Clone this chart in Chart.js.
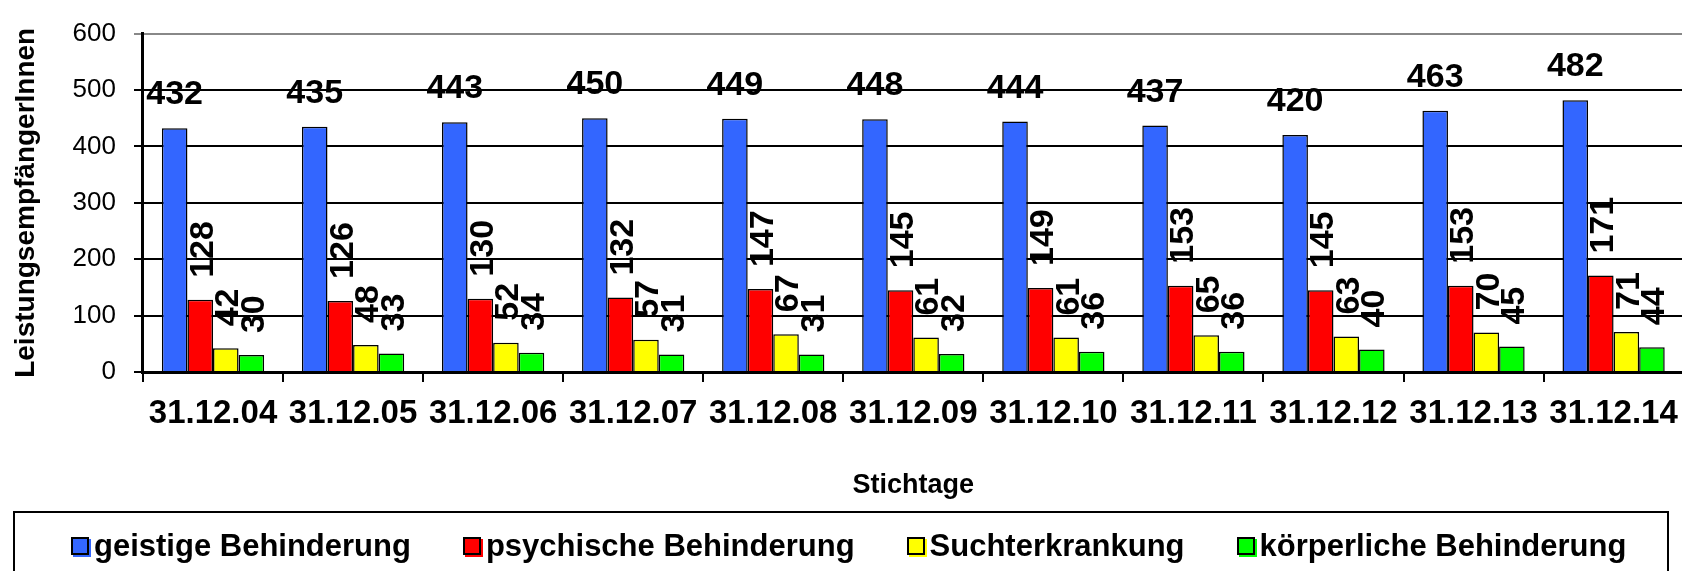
<!DOCTYPE html>
<html>
<head>
<meta charset="utf-8">
<script src="https://cdn.jsdelivr.net/npm/chart.js@4"></script>
<style>
  html, body { margin: 0; padding: 0; background: #fff; overflow: hidden; }
  #wrap { position: relative; width: 1690px; height: 571px; }
  #legend {
    position: absolute; left: 13px; top: 511px; width: 1656px; height: 80px;
    border: 2px solid #000; box-sizing: border-box;
    font-family: 'Liberation Sans', Arial, sans-serif; font-weight: bold; font-size: 31px;
    display: flex; align-items: flex-start; padding: 15px 0 0 56px;
  }
  .item { display: flex; align-items: center; margin-right: 52px; white-space: nowrap; }
  .sq { width: 14px; height: 14px; border: 2px solid #000; margin-right: 5px; }
</style>
</head>
<body>
<div id="wrap">
  <canvas id="myChart" width="1690" height="571"></canvas>
  <div id="legend"></div>
</div>
<script>
const labels = ['31.12.04','31.12.05','31.12.06','31.12.07','31.12.08','31.12.09','31.12.10','31.12.11','31.12.12','31.12.13','31.12.14'];
const geistige = [432,435,443,450,449,448,444,437,420,463,482];
const psychische = [128,126,130,132,147,145,149,153,145,153,171];
const sucht = [42,48,52,57,67,61,61,65,63,70,71];
const koerperlich = [30,33,34,31,31,32,36,36,40,45,44];

const seriesNames = ['geistige Behinderung','psychische Behinderung','Suchterkrankung','körperliche Behinderung'];
const colors = ['#3366ff','#ff0000','#ffff00','#00ff00'];

const font = "'Liberation Sans', Arial, sans-serif";

// value labels: first series upright, the others turned
const valueLabels = {
  id: 'valueLabels',
  afterDatasetsDraw(chart) {
    const ctx = chart.ctx;
    ctx.save();
    ctx.fillStyle = '#000';
    ctx.font = 'bold 34px ' + font;
    chart.data.datasets.forEach(function(ds, i) {
      const meta = chart.getDatasetMeta(i);
      meta.data.forEach(function(bar, j) {
        const txt = String(ds.data[j]);
        if (i === 0) {
          ctx.textAlign = 'center';
          ctx.textBaseline = 'alphabetic';
          ctx.fillText(txt, bar.x, bar.y - 24);
        } else {
          ctx.save();
          ctx.translate(bar.x + 3, bar.y - 22);
          ctx.rotate(-Math.PI / 2);
          ctx.textAlign = 'left';
          ctx.textBaseline = 'middle';
          ctx.fillText(txt, 0, 0);
          ctx.restore();
        }
      });
    });
    ctx.restore();
  }
};

const data = {
  labels: labels,
  datasets: [geistige, psychische, sucht, koerperlich].map(function(d, i) {
    return {
      label: seriesNames[i],
      data: d,
      backgroundColor: colors[i],
      borderColor: '#000',
      borderWidth: 1.5,
      barPercentage: 1,
      categoryPercentage: 0.73
    };
  })
};

const config = {
  type: 'bar',
  data: data,
  options: {
    responsive: false,
    animation: false,
    layout: { padding: { left: 1, right: 4, top: 32, bottom: 65 } },
    plugins: {
      legend: { display: false },
      tooltip: { enabled: false }
    },
    scales: {
      x: {
        grid: { drawOnChartArea: false, offset: true, tickLength: 10, color: '#000', lineWidth: 2 },
        border: { color: '#000', width: 3 },
        ticks: { color: '#000', padding: 12, font: { family: font, size: 33, weight: 'bold' } },
        title: {
          display: true, text: 'Stichtage', color: '#000',
          font: { family: font, size: 27, weight: 'bold' },
          padding: { top: 24, bottom: 4 }
        }
      },
      y: {
        min: 0, max: 600,
        ticks: { stepSize: 100, color: '#000', padding: 18, font: { family: font, size: 26 } },
        grid: {
          tickLength: 9, lineWidth: 2,
          color: function(c) { return c.tick && c.tick.value === 600 ? '#888' : '#000'; }
        },
        border: { color: '#000', width: 3 },
        title: {
          display: true, text: 'LeistungsempfängerInnen', color: '#000',
          font: { family: font, size: 28, weight: 'bold' },
          padding: { top: 8, bottom: 12 }
        }
      }
    }
  },
  plugins: [valueLabels]
};

const myChart = new Chart(document.getElementById('myChart'), config);

// legend box below the chart
const legend = document.getElementById('legend');
seriesNames.forEach(function(name, i) {
  const item = document.createElement('div');
  item.className = 'item';
  const sq = document.createElement('span');
  sq.className = 'sq';
  sq.style.background = colors[i];
  sq.style.boxShadow = '2px 2px 0 ' + colors[i];
  item.appendChild(sq);
  item.appendChild(document.createTextNode(name));
  legend.appendChild(item);
});
</script>
</body>
</html>
